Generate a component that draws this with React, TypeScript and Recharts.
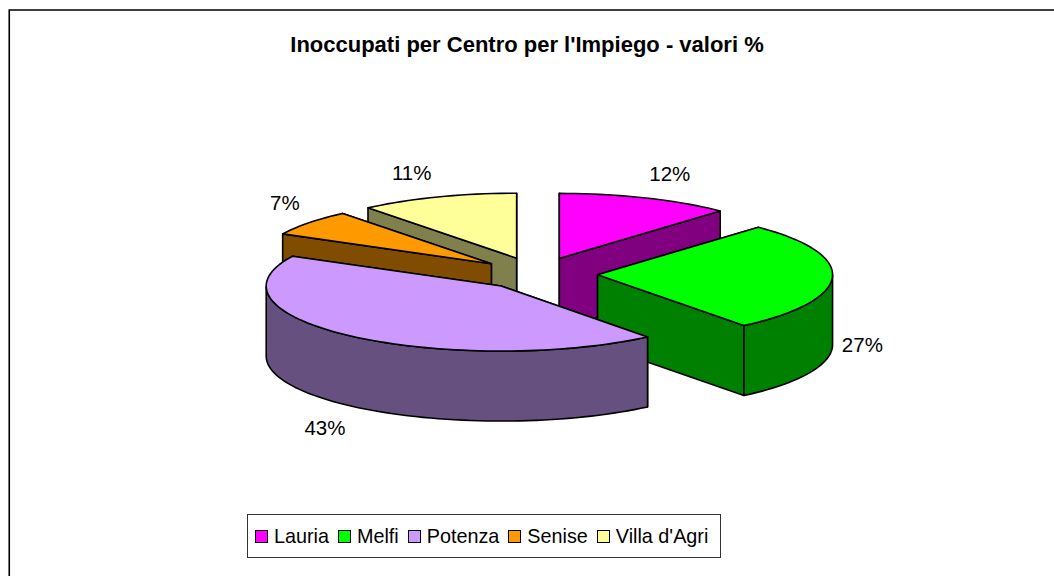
import React from 'react';
import { PieChart, Pie, Legend } from 'recharts';

const categories = ['Lauria', 'Melfi', 'Potenza', 'Senise', "Villa d'Agri"];
const shares = [12, 27.3, 43.3, 6.5, 10.9];
const topColors = ['#FF00FF', '#00FF00', '#CC99FF', '#FF9900', '#FFFF99'];
const sideColors = ['#800080', '#008000', '#66507F', '#804C00', '#80804C'];
const paintOrder = [0, 4, 3, 1, 2];
const explodeBySlice = [0.258, 0.258, 0.24, 0.25, 0.258];
const labelNudges = [[24, -24], [30, 67], [-27, 91], [-24, -20], [-26, -24]];

const FONT = '"Liberation Sans", Arial, sans-serif';
const TILT = 65 / 235;
const DEPTH = 70;

const tableData = categories.map((name, i) => ({ name, value: shares[i], fill: topColors[i] }));

const rad = (d: number) => (d * Math.PI) / 180;

function explodedCentre(cx: number, cy: number, r: number, mid: number, index: number) {
  const e = explodeBySlice[index];
  return {
    x: cx + e * r * Math.cos(rad(mid)),
    y: cy - e * r * TILT * Math.sin(rad(mid)),
  };
}

function arcPoints(c: { x: number; y: number }, r: number, from: number, to: number) {
  const n = Math.max(2, Math.ceil(Math.abs(to - from) / 2));
  const pts: [number, number][] = [];
  for (let i = 0; i <= n; i++) {
    const a = from + ((to - from) * i) / n;
    pts.push([c.x + r * Math.cos(rad(a)), c.y - r * TILT * Math.sin(rad(a))]);
  }
  return pts;
}

const toD = (pts: [number, number][]) =>
  pts.map((p, i) => `${i ? 'L' : 'M'}${p[0].toFixed(2)},${p[1].toFixed(2)}`).join(' ') + ' Z';

function SliceShape(props: any, only: number) {
  const { index, cx, cy, outerRadius: r, startAngle, endAngle } = props;
  if (index !== only) return <g />;
  const mid = (startAngle + endAngle) / 2;
  const c = explodedCentre(cx, cy, r, mid, index);
  const arc = arcPoints(c, r, startAngle, endAngle);
  const down = (p: [number, number]): [number, number] => [p[0], p[1] + DEPTH];
  const apex: [number, number] = [c.x, c.y];
  const ends = [arc[0], arc[arc.length - 1]].sort((a, b) => a[1] - b[1]);
  const side = sideColors[index];
  const front = arc.filter((_, i) => {
    const a = startAngle + ((endAngle - startAngle) * i) / (arc.length - 1);
    return Math.sin(rad(a)) <= 0;
  });
  const common = { stroke: '#000', strokeWidth: 1.6, strokeLinejoin: 'round' as const };
  return (
    <g>
      {ends.map((e, i) => (
        <path key={i} d={toD([apex, e, down(e), down(apex)])} fill={side} {...common} />
      ))}
      {front.length > 1 && (
        <path d={toD([...front, ...front.map(down).reverse()])} fill={side} {...common} />
      )}
      <path d={toD([apex, ...arc])} fill={topColors[index]} {...common} />
    </g>
  );
}

function renderLabel(props: any) {
  const { index, cx, cy, outerRadius: r, midAngle } = props;
  const c = explodedCentre(cx, cy, r, midAngle, index);
  const x = c.x + r * Math.cos(rad(midAngle)) + labelNudges[index][0];
  const y = c.y - r * TILT * Math.sin(rad(midAngle)) + labelNudges[index][1];
  return (
    <text x={x} y={y} textAnchor="middle" dominantBaseline="central" fontFamily={FONT} fontSize={20.5} fill="#000">
      {`${Math.round(shares[index])}%`}
    </text>
  );
}

function LegendBox() {
  return (
    <div
      style={{
        boxSizing: 'border-box',
        width: 474,
        height: 44,
        border: '1.5px solid #333',
        background: '#fff',
        display: 'flex',
        alignItems: 'center',
        paddingLeft: 7,
        fontFamily: FONT,
        fontSize: 19.8,
        color: '#000',
        whiteSpace: 'nowrap',
      }}
    >
      {categories.map((name, i) => (
        <span key={name} style={{ display: 'inline-flex', alignItems: 'center', marginRight: 9 }}>
          <span
            style={{
              display: 'inline-block',
              boxSizing: 'border-box',
              width: 13,
              height: 13,
              border: '1.6px solid #000',
              background: topColors[i],
              marginRight: 6,
            }}
          />
          {name}
        </span>
      ))}
    </div>
  );
}

export default function App() {
  return (
    <div style={{ position: 'fixed', left: 0, top: 0, width: 1054, height: 576, background: '#fff' }}>
      <PieChart width={1054} height={576} margin={{ top: 0, right: 0, bottom: 0, left: 0 }}>
        <path d="M9.25,576 V10 H1054" fill="none" stroke="#000" strokeWidth={1.6} />
        <text x={527} y={44} textAnchor="middle" dominantBaseline="central" fontFamily={FONT} fontWeight="bold" fontSize={22} fill="#000">
          Inoccupati per Centro per l'Impiego - valori %
        </text>
        {paintOrder.map((only, k) => (
          <Pie
            key={only}
            data={tableData}
            dataKey="value"
            nameKey="name"
            cx={537}
            cy={274}
            innerRadius={0}
            outerRadius={235}
            startAngle={90}
            endAngle={-270}
            paddingAngle={0}
            isAnimationActive={false}
            shape={(p: any) => SliceShape(p, only)}
            label={k === paintOrder.length - 1 ? renderLabel : false}
            labelLine={false}
          />
        ))}
        <Legend
          content={() => <LegendBox />}
          wrapperStyle={{ position: 'absolute', left: 247, top: 514, width: 474, height: 44, bottom: 'auto', right: 'auto' }}
        />
      </PieChart>
    </div>
  );
}
